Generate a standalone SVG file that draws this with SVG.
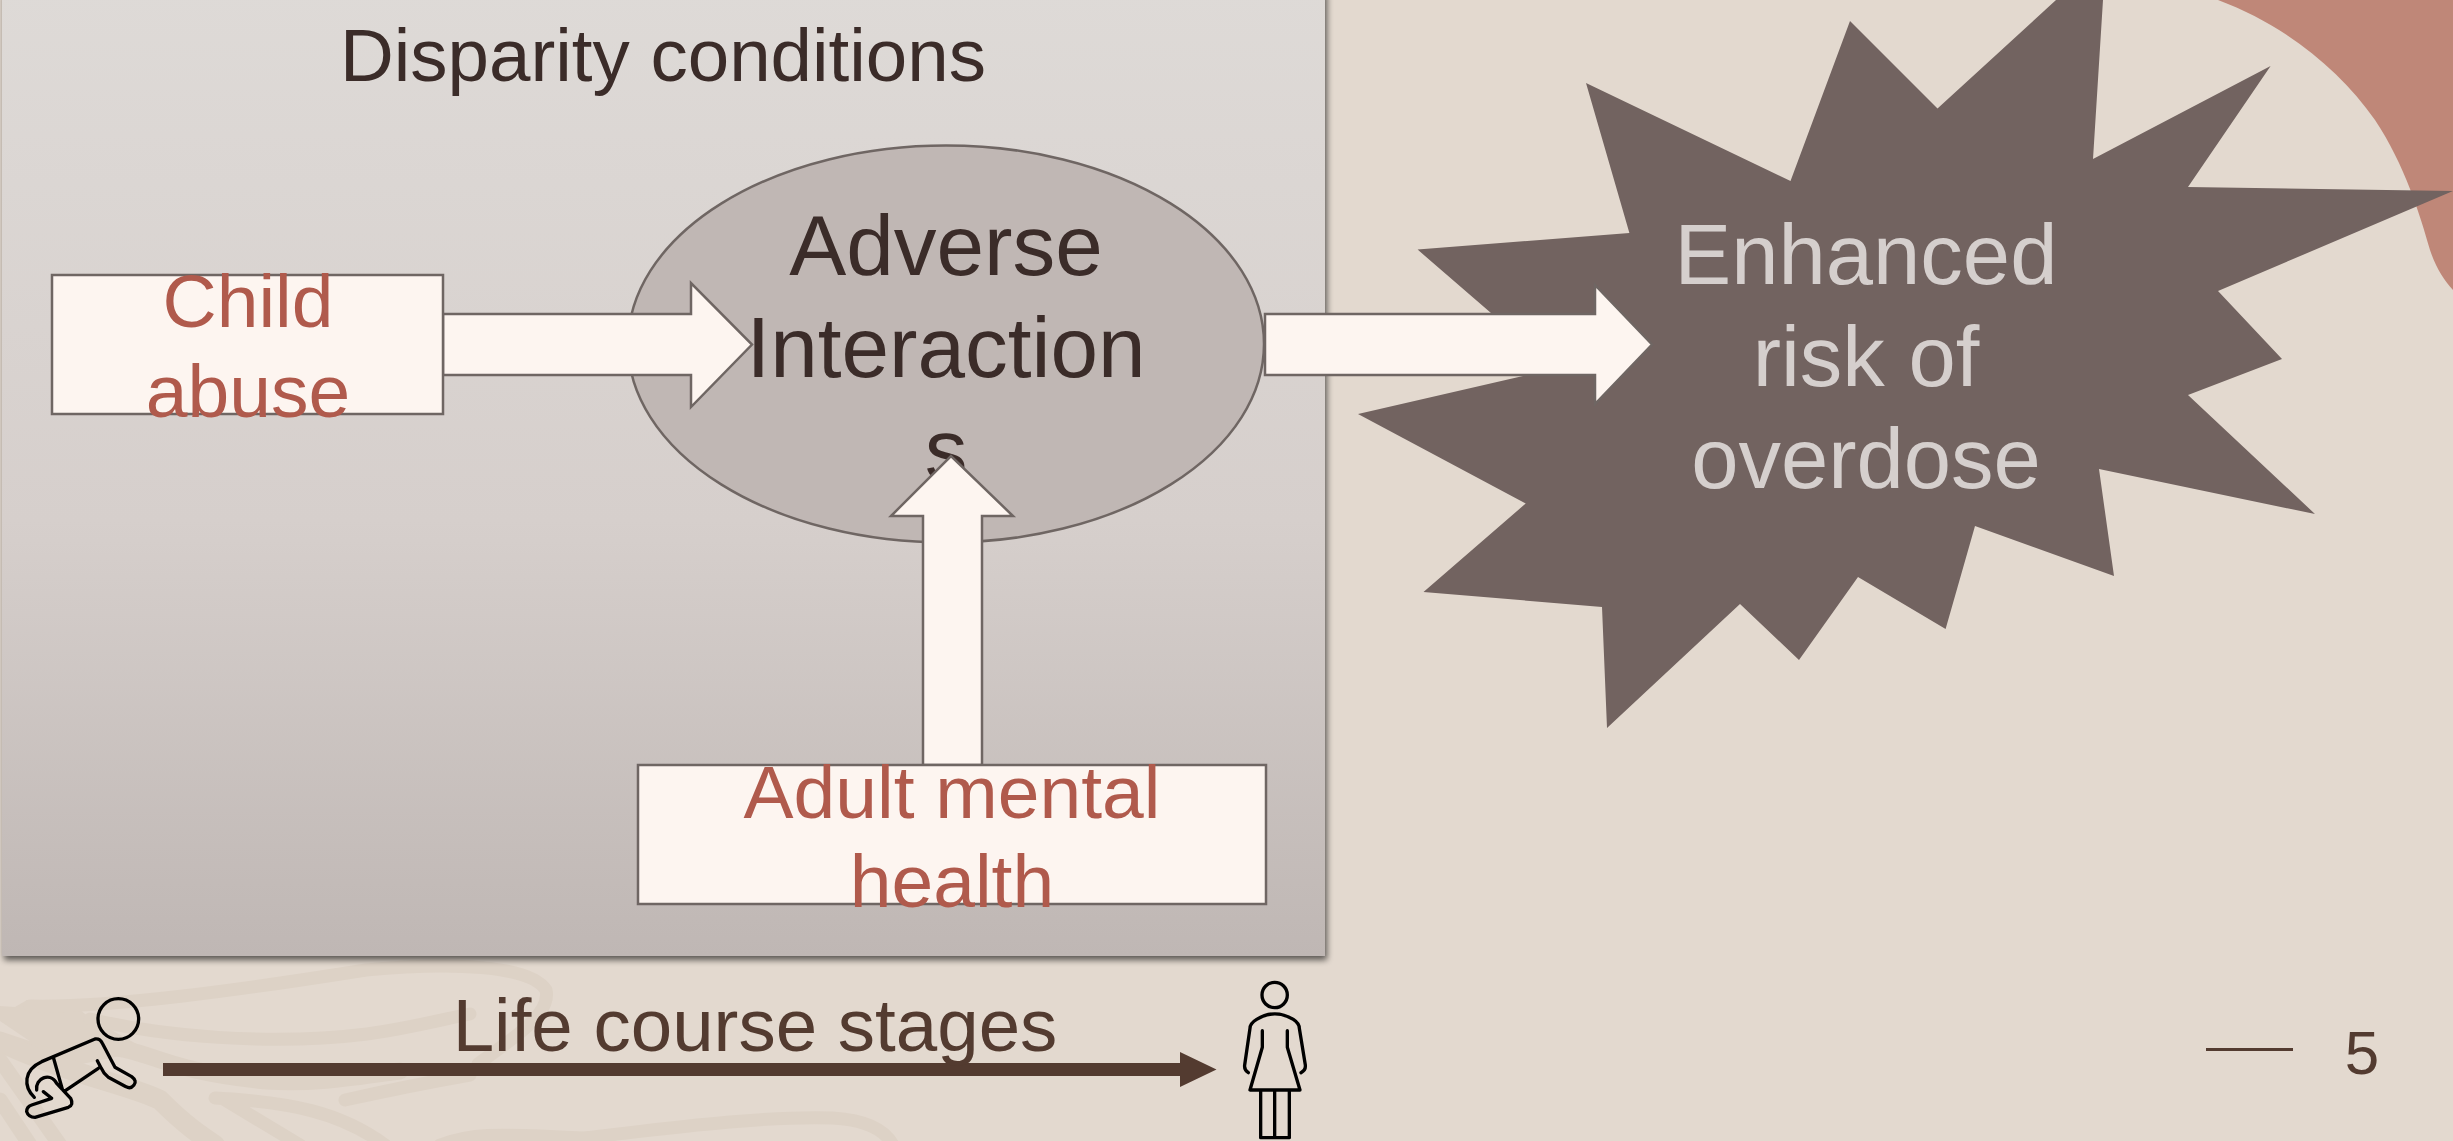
<svg xmlns="http://www.w3.org/2000/svg" width="2453" height="1141" viewBox="0 0 2453 1141">
<style>
text{font-family:"Liberation Sans",Arial,sans-serif;text-anchor:middle}
.dark{fill:#3b2c29}
.red{fill:#b05a4c}
.light{fill:#d5cfcd}
.brown{fill:#533b30}
.box{fill:#fdf5f0;stroke:#6f6663;stroke-width:2.500}
.leaf{fill:none;stroke:#ddd2c6;stroke-linecap:round;stroke-linejoin:round}
.icon{fill:none;stroke:#000;stroke-width:10;stroke-linecap:round;stroke-linejoin:round}
</style>
<defs>
<linearGradient id="panelFill" x1="0" y1="0" x2="0" y2="1"><stop offset="0" stop-color="#dedad7"/><stop offset="0.55" stop-color="#d6cfcc"/><stop offset="1" stop-color="#bfb7b4"/></linearGradient>
<filter id="shadow" x="-2%" y="-2%" width="104%" height="104%"><feGaussianBlur in="SourceAlpha" stdDeviation="3"/><feOffset dx="2" dy="4"/><feComponentTransfer><feFuncA type="linear" slope="0.6"/></feComponentTransfer><feMerge><feMergeNode/><feMergeNode in="SourceGraphic"/></feMerge></filter>
</defs>
<rect id="background" width="2453" height="1141" fill="#e3d9cf"/>
<g id="decor">
<path d="M2218 0C2285 25 2340 70 2375 120C2405 165 2420 215 2430 250C2436 268 2444 280 2453 290V0Z" fill="#bf8778"/>
<path d="M0 1006L15 1007L27 1000L70 1002L90 1018L140 1046L118 1052L75 1058L40 1048L0 1021Z" fill="#ddd2c6"/>
<path class="leaf" stroke-width="13" d="M30 1006C110 1008 240 990 366 970C450 962 530 965 546 990C552 1015 510 1040 478 1064"/>
<path class="leaf" stroke-width="13" d="M90 1019C160 1036 270 1046 367 1034C410 1028 440 1020 470 1014"/>
<path class="leaf" stroke-width="17" d="M0 1040L60 1060L117 1048C150 1052 170 1072 267 1081C320 1084 360 1076 400 1071"/>
<path class="leaf" stroke-width="20" d="M0 1042C70 1075 130 1085 160 1100C185 1125 200 1135 215 1145"/>
<path class="leaf" stroke-width="15" d="M0 1060L60 1145M0 1100L30 1145"/>
<path class="leaf" stroke-width="13" d="M215 1098C290 1102 340 1112 385 1145M225 1100L300 1145M345 1100C390 1090 430 1082 470 1075"/>
<path class="leaf" stroke-width="13" d="M440 1145C470 1134 490 1133 583 1138C640 1132 760 1115 833 1118C865 1120 885 1130 893 1145"/>
</g>
<g id="panel"><rect x="2" y="-10" width="1323" height="966" fill="url(#panelFill)" filter="url(#shadow)"/>
<text x="663" y="81" font-size="74.500" class="dark">Disparity conditions</text></g>
<g id="enhanced-risk">
<path d="M2056 0L1937.500 108.500L1850 21L1790.500 181L1586 83L1629.400 233L1417.600 249.600L1491 313L1530 345L1523 376L1358 414L1525.700 503.500L1423.500 592L1602 607L1607 728L1740 604L1799 660L1858 577L1945.600 629L1975 526L2114 576L2099 469L2315 514L2188 395L2282 359L2218 291L2453 191L2188 187L2270.600 66L2093 159L2103 0Z" fill="#726360"/>
<text x="1866" y="284" font-size="85" class="light">Enhanced</text>
<text x="1866" y="386" font-size="85" class="light">risk of</text>
<text x="1866" y="488" font-size="85" class="light">overdose</text></g>
<g id="adverse-interactions">
<ellipse cx="946" cy="344" rx="318" ry="198.500" fill="#c0b7b4" stroke="#6f6663" stroke-width="2.500"/>
<text x="946" y="275" font-size="85.500" class="dark">Adverse</text>
<text x="946" y="377" font-size="85.500" class="dark">Interaction</text>
<text x="946" y="479" font-size="85.500" class="dark">s</text></g>
<g id="connectors">
<path class="box" d="M443 314H691V283L752 344.500L691 407V375H443Z"/>
<path class="box" d="M1265 314H1595V285L1652 344.500L1595 404V375H1265Z"/>
<path class="box" d="M923 765V516H891L951 456L1013 516H982V765Z"/>
<g id="life-course-arrow"><path d="M163 1063H1180V1052L1216.500 1069.500L1180 1087V1076H163Z" fill="#533b30"/></g>
</g>
<g id="child-abuse"><rect class="box" x="52" y="275" width="391" height="139"/>
<text x="248" y="327" font-size="75" class="red">Child</text>
<text x="248" y="417" font-size="75" class="red">abuse</text></g>
<g id="adult-mental-health"><rect class="box" x="638" y="765" width="628" height="139"/>
<text x="952" y="818" font-size="75" class="red">Adult mental</text>
<text x="952" y="907" font-size="75" class="red">health</text></g>
<g id="life-course"><text x="755" y="1051" font-size="74.500" class="brown">Life course stages</text>
<g id="baby" transform="translate(0 980) scale(.3333)" class="icon">
<circle cx="355" cy="117" r="61"/>
<path d="M103 352C70 320 70 270 125 245L285 177Q300 175 307 190L345 262L395 290Q412 303 402 315Q392 328 378 320L325 292Q310 280 303 263L292 242M295 265L195 333M160 232L187 328M110 330C105 295 150 275 170 310L212 355Q222 375 205 382L105 412Q85 412 80 395Q80 380 95 375L155 355L130 335"/></g>
<g id="woman" transform="translate(1230 970) scale(.3333)" class="icon">
<circle cx="134" cy="75" r="38"/>
<path d="M55 308Q42 300 44 285L60 175Q60 160 80 148Q134 115 190 148Q208 160 208 175L226 285Q228 300 213 308M97 182V232L60 360H210L172 232V182M92 360V503H178V360M134 360V503"/></g></g>
<g id="page-number"><rect x="2206" y="1048" width="87" height="3" fill="#533b30"/>
<text x="2362" y="1074" font-size="62" class="brown">5</text></g>
</svg>
